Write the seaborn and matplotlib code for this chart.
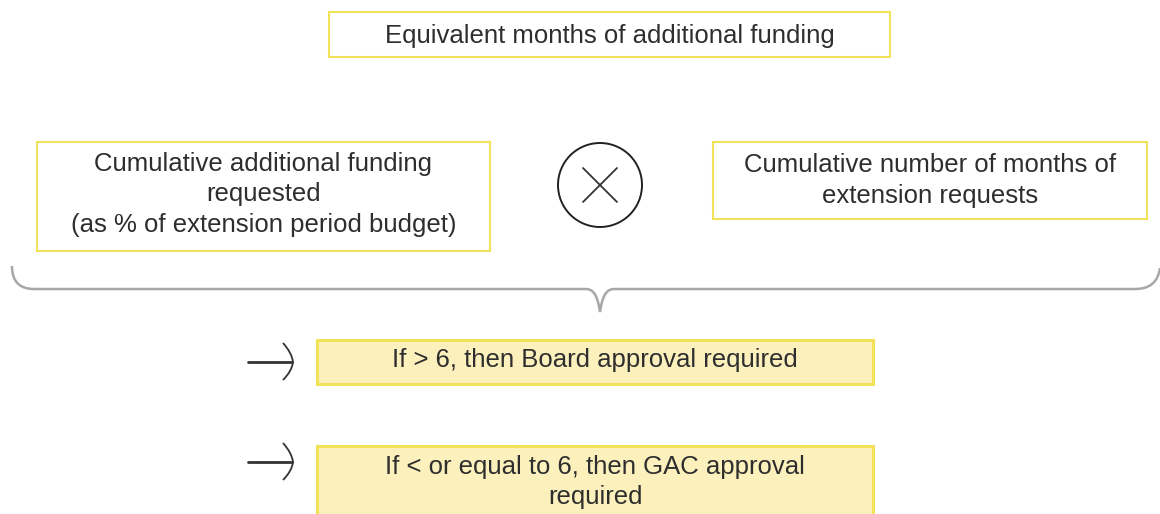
import matplotlib.pyplot as plt
import matplotlib.patches as patches
from matplotlib.path import Path
import seaborn as sns

# Diagram text
top_label = "Equivalent months of additional funding"
left_label = "Cumulative additional funding\nrequested\n(as % of extension period budget)"
right_label = "Cumulative number of months of\nextension requests"
rule_labels = ["If > 6, then Board approval required",
               "If < or equal to 6, then GAC approval\nrequired"]

sns.set_theme(style="white")
plt.rcParams['font.family'] = ['Liberation Sans', 'DejaVu Sans']

text_color = "#2e2e2e"
edge_yellow = "#f1e25a"
fill_yellow = "#fcf1bc"

fig = plt.figure(figsize=(11.6, 5.14), dpi=100)
ax = fig.add_axes([0, 0, 1, 1])
ax.set_xlim(0, 1160)
ax.set_ylim(514, 0)
ax.axis('off')


def box(x0, y0, x1, y1, label, fill="white", lw=1.5, dy=2):
    rect = patches.Rectangle((x0, y0), x1 - x0, y1 - y0, facecolor=fill,
                             edgecolor=edge_yellow, linewidth=lw)
    ax.add_patch(rect)
    ax.text((x0 + x1) / 2, (y0 + y1) / 2 + dy, label, ha='center', va='center',
            fontsize=18.5, color=text_color, linespacing=1.32)


box(329, 12, 890, 57, top_label)
box(37, 142, 490, 251, left_label, dy=-2)
box(713, 142, 1147, 219, right_label, dy=0)

# multiply sign
ax.add_patch(patches.Ellipse((600, 185), 84, 84, fill=False,
                             edgecolor="#222222", linewidth=1.4))
ax.plot([583, 617], [168, 202], color="#333333", lw=1.3)
ax.plot([583, 617], [202, 168], color="#333333", lw=1.3)

# curly brace
verts = [(12, 266), (12, 282), (20, 289), (34, 289),
         (585, 289), (592, 289), (597, 292), (600, 312),
         (603, 292), (608, 289), (615, 289),
         (1135, 289), (1150, 289), (1158, 282), (1160, 268)]
codes = [Path.MOVETO, Path.CURVE4, Path.CURVE4, Path.CURVE4,
         Path.LINETO, Path.CURVE4, Path.CURVE4, Path.CURVE4,
         Path.CURVE4, Path.CURVE4, Path.CURVE4,
         Path.LINETO, Path.CURVE4, Path.CURVE4, Path.CURVE4]
ax.add_patch(patches.PathPatch(Path(verts, codes), fill=False,
                               edgecolor="#a8a8a8", linewidth=1.8))

# rule boxes with arrows
rule_boxes = [(317, 340, 873, 384), (317, 446, 873, 522)]
arrow_y = [362, 462]
for (x0, y0, x1, y1), label, ya in zip(rule_boxes, rule_labels, arrow_y):
    box(x0, y0, x1, y1, label, fill=fill_yellow, lw=2.2, dy=-2)
    ax.plot([248, 292], [ya, ya], color="#333333", lw=2)
    head = Path([(283, ya - 19), (292, ya - 9), (293, ya),
                 (292, ya + 9), (283, ya + 18)],
                [Path.MOVETO, Path.CURVE3, Path.CURVE3, Path.CURVE3, Path.CURVE3])
    ax.add_patch(patches.PathPatch(head, fill=False, edgecolor="#333333", linewidth=1.3))

fig.savefig("out.png", dpi=100)
